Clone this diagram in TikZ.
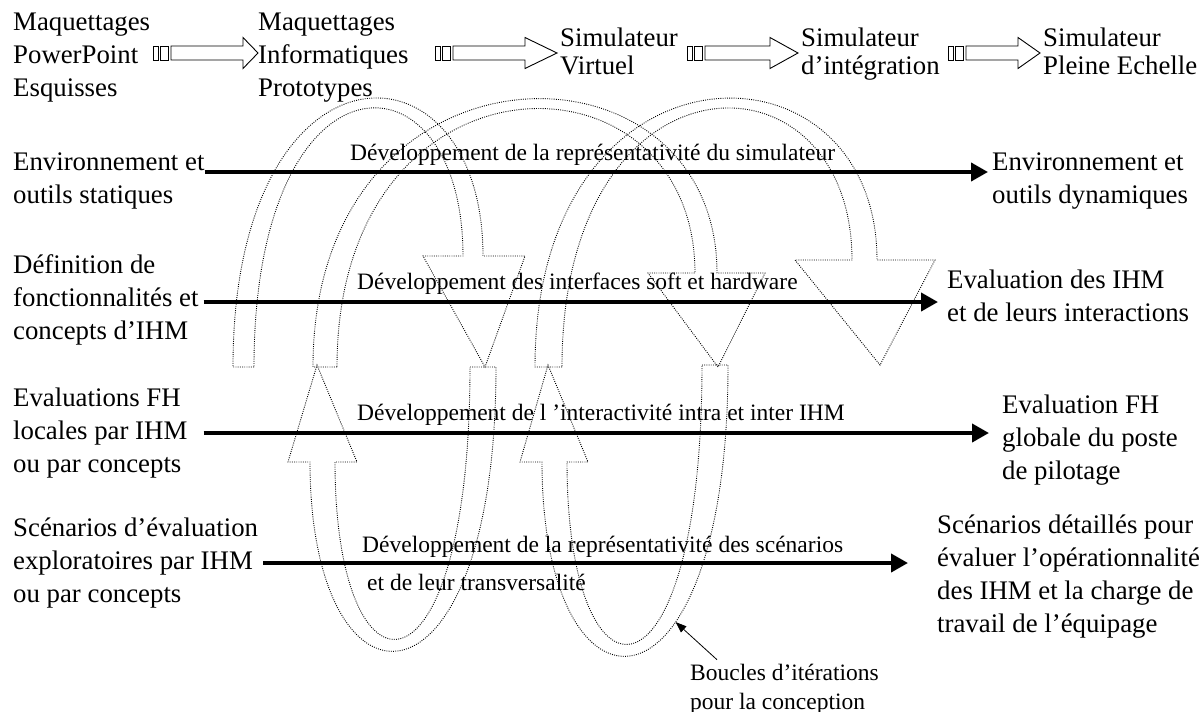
\documentclass[tikz,border=0pt]{standalone}
\usepackage{fontspec}
\setmainfont{Liberation Serif}
\usetikzlibrary{arrows.meta}

\begin{document}
\begin{tikzpicture}[x=1pt, y=-1pt,
        texte/.style = {align=left, anchor=north west, inner sep=0pt,
        font=\fontsize{26.8}{33}\selectfont},
        dev/.style = {anchor=base west, inner sep=0pt,
        font=\fontsize{23.5}{29}\selectfont},
        fleche/.style = {line width=4pt,
        -{Triangle[length=17pt,width=18pt]}},
        etape/.style = {draw, line width=0.9pt, fill=white},
        boucle/.style = {line width=0.9pt,
        dash pattern=on 0.9pt off 1.3pt}]

        \useasboundingbox (0,0) rectangle (1203,712);

        % Top row
        \node[texte] (maqPP) at (13,6.9) {\strut Maquettages\\PowerPoint\\Esquisses};
        \node[texte] (maqInfo) at (258,6.9) {\strut Maquettages\\Informatiques\\Prototypes};
        \node[texte, font=\fontsize{26.8}{28}\selectfont] (simVirt) at (560,26.4) {\strut Simulateur\\Virtuel};
        \node[texte, font=\fontsize{26.8}{28}\selectfont] (simInt) at (801,26.4) {\strut Simulateur\\d’intégration};
        \node[texte, font=\fontsize{26.8}{28}\selectfont] (simPE) at (1043,26.4) {\strut Simulateur\\Pleine Echelle};

        % Striped block arrows
        \foreach \s/\e/\t in {153/243/258, 435/525/557, 687/770/798, 948/1018/1040}{
            \draw[etape] (\s,46) rectangle ++(5,14);
            \draw[etape] (\s+7,46) rectangle ++(8,14);
            \draw[etape] (\s+18,46) -- (\e,46) -- (\e,37.5) -- (\t,53)
                -- (\e,68.5) -- (\e,60) -- (\s+18,60) -- cycle;
        }

        % Left column
        \node[texte] (envS) at (13,146.9) {\strut Environnement et\\outils statiques};
        \node[texte] (defF) at (13,249.9) {\strut Définition de\\fonctionnalités et\\concepts d’IHM};
        \node[texte] (evalL) at (13,382.9) {\strut Evaluations FH\\locales par IHM\\ou par concepts};
        \node[texte] (scenL) at (13,512.9) {\strut Scénarios d’évaluation\\exploratoires par IHM\\ou par concepts};

        % Right column
        \node[texte] (envD) at (992,146.9) {\strut Environnement et\\outils dynamiques};
        \node[texte] (evalIHM) at (947,264.9) {\strut Evaluation des IHM\\et de leurs interactions};
        \node[texte] (evalFH) at (1002,389.9) {\strut Evaluation FH\\globale du poste\\de pilotage};
        \node[texte] (scenD) at (937,509.9) {\strut Scénarios détaillés pour\\évaluer l’opérationnalité\\des IHM et la charge de\\travail de l’équipage};

        % Development arrows
        \draw[fleche, shorten >=4pt] (envS.east |- 0,172) -- (envD.west |- 0,172);
        \draw[fleche, shorten <=5pt, shorten >=9pt] (defF.east |- 0,302) -- (evalIHM.west |- 0,302);
        \draw[fleche, shorten <=16pt, shorten >=13pt] (evalL.east |- 0,433) -- (evalFH.west |- 0,433);
        \draw[fleche, shorten <=5pt, shorten >=29pt] (scenL.east |- 0,563) -- (scenD.west |- 0,563);

        % Arrow labels
        \node[dev] (dev1) at (350,160) {Développement de la représentativité du simulateur};
        \node[dev] (dev2) at (357,289) {Développement des interfaces soft et hardware};
        \node[dev] (dev3) at (357,420) {Développement de l ’interactivité intra et inter IHM};
        \node[texte, font=\fontsize{23.5}{38}\selectfont] (dev4) at (362,525.4)
            {\strut Développement de la représentativité des scénarios\\\hspace*{5pt}et de leur transversalité};

        % Loop A
        \draw[boucle] (254,367) -- (233,367) .. controls (233,29.5) and (483,29.5) .. (483,256)
            -- (525,256) -- (485,367) -- (423,256) -- (463,256)
            .. controls (463,42.8) and (254,42.8) .. (254,367);
        % Loop B
        \draw[boucle] (337,367) -- (313,367) .. controls (313,26.7) and (717,26.7) .. (717,273)
            -- (765,273) -- (718,367) -- (648,273) -- (695,273)
            .. controls (695,40) and (337,40) .. (337,367);
        % Loop C
        \draw[boucle] (562,367) -- (535,367) .. controls (535,28.8) and (877,28.8) .. (877,260)
            -- (935,260) -- (880,365) -- (795,260) -- (852,260)
            .. controls (852,42.1) and (562,42.1) .. (562,367);
        % Loop D
        \draw[boucle] (470,367) -- (496,367) .. controls (496,728.5) and (310,728.5) .. (310,462)
            -- (288,462) -- (317,365) -- (357,462) -- (335,462)
            .. controls (335,712.5) and (470,712.5) .. (470,367);
        % Loop E
        \draw[boucle] (702,365) -- (728,365) .. controls (728,735.5) and (542,735.5) .. (542,462)
            coordinate[pos=0.35] (pointe)
            -- (520,462) -- (548,365) -- (588,462) -- (567,462)
            .. controls (567,719.5) and (702,719.5) .. (702,365);

        % Loop label
        \node[texte, font=\fontsize{23.5}{29}\selectfont] (boucles) at (690,659.7)
            {\strut Boucles d’itérations\\pour la conception};
        \draw[line width=0.8pt, -{Triangle[length=11pt,width=8pt]}]
            ([xshift=27pt]boucles.north west) -- (pointe);

    \end{tikzpicture}
\end{document}
